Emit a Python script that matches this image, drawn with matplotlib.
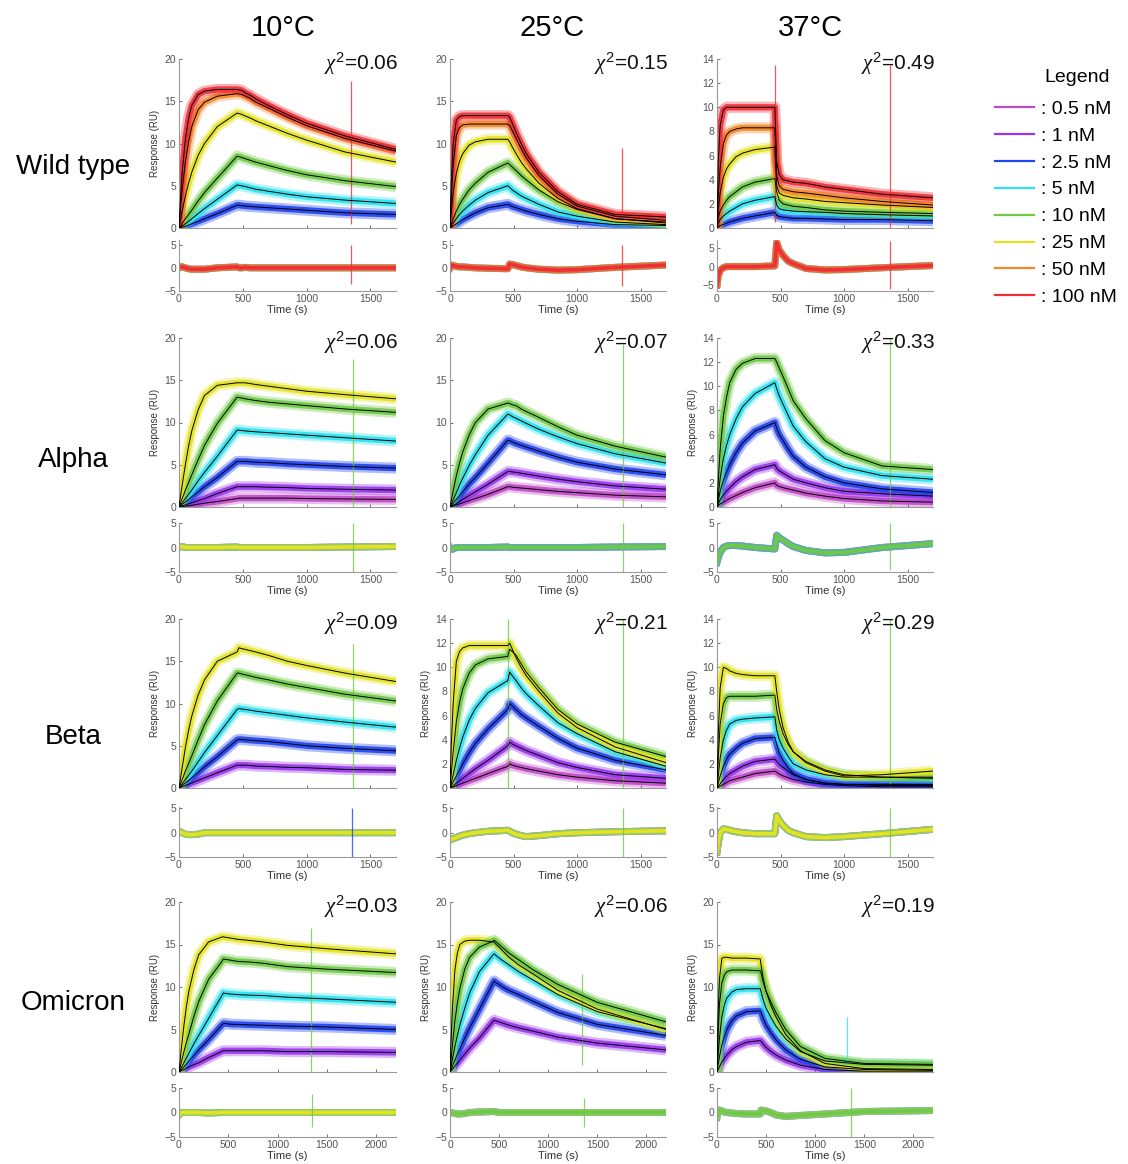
import matplotlib
matplotlib.use('Agg')
import matplotlib.pyplot as plt
from matplotlib.lines import Line2D

plt.rcParams['font.family'] = ['Liberation Sans', 'DejaVu Sans']
plt.rcParams['mathtext.fontset'] = 'custom'
plt.rcParams['mathtext.it'] = 'Liberation Serif:italic'
plt.rcParams['mathtext.rm'] = 'Liberation Sans'

# ---------------- data ----------------
conc_labels = [': 0.5 nM', ': 1 nM', ': 2.5 nM', ': 5 nM', ': 10 nM', ': 25 nM', ': 50 nM', ': 100 nM']
colors = ['#c04ac8', '#9a35ee', '#2243f0', '#2ee2f0', '#6fc946', '#e3e323', '#f5892a', '#ef2e37']
variants = ['Wild type', 'Alpha', 'Beta', 'Omicron']
temps = ['10°C', '25°C', '37°C']
chi2 = [['0.06', '0.15', '0.49'], ['0.06', '0.07', '0.33'],
        ['0.09', '0.21', '0.29'], ['0.03', '0.06', '0.19']]

t_std = [0, 10, 25, 50, 75, 100, 150, 200, 300, 455, 470, 490, 520, 560, 600, 700, 850, 1000, 1300, 1700]
t_omi = [0, 10, 25, 50, 75, 100, 150, 200, 300, 440, 450, 470, 500, 550, 600, 700, 850, 1100, 1500, 2200]

# series keyed by concentration index (0=0.5 nM ... 7=100 nM)
wt10 = {
    2: [0, 0.05, 0.1, 0.2, 0.35, 0.5, 0.8, 1.1, 1.7, 2.7, 2.7, 2.65, 2.6, 2.55, 2.5, 2.4, 2.25, 2.1, 1.8, 1.6],
    3: [0, 0.1, 0.25, 0.5, 0.8, 1.1, 1.7, 2.3, 3.4, 5.1, 5.05, 5.0, 4.9, 4.75, 4.6, 4.35, 4.0, 3.7, 3.3, 2.9],
    4: [0, 0.2, 0.55, 1.1, 1.6, 2.1, 3.2, 4.2, 5.9, 8.5, 8.45, 8.35, 8.2, 8.0, 7.8, 7.4, 6.8, 6.3, 5.6, 4.9],
    5: [0, 0.8, 2.0, 3.8, 5.3, 6.6, 8.6, 10.0, 12.0, 13.6, 13.55, 13.45, 13.25, 13.0, 12.7, 12.1, 11.2, 10.4, 9.0, 7.8],
    6: [0, 2.1, 4.6, 7.8, 10.2, 12.0, 14.0, 14.9, 15.6, 15.9, 15.85, 15.8, 15.6, 15.3, 14.9, 14.2, 13.1, 12.1, 10.6, 9.1],
    7: [0, 3.0, 6.6, 10.5, 13.0, 14.5, 15.8, 16.2, 16.4, 16.4, 16.35, 16.3, 16.0, 15.7, 15.3, 14.5, 13.4, 12.4, 10.9, 9.3],
}
wt25 = {
    2: [0, 0.1, 0.25, 0.5, 0.75, 1.0, 1.4, 1.8, 2.4, 2.8, 2.7, 2.55, 2.4, 2.2, 2.0, 1.6, 1.1, 0.8, 0.4, 0.3],
    3: [0, 0.25, 0.6, 1.1, 1.6, 2.0, 2.7, 3.3, 4.2, 5.0, 4.8, 4.5, 4.2, 3.8, 3.5, 2.8, 1.9, 1.4, 0.7, 0.4],
    4: [0, 0.45, 1.1, 2.0, 2.8, 3.4, 4.5, 5.3, 6.6, 7.7, 7.5, 7.2, 6.8, 6.2, 5.7, 4.5, 3.1, 2.2, 1.1, 0.6],
    5: [0, 1.8, 4.2, 6.5, 7.9, 8.8, 9.8, 10.2, 10.5, 10.5, 10.2, 9.6, 8.8, 7.8, 7.0, 5.3, 3.5, 2.3, 1.1, 0.7],
    6: [0, 3.5, 7.5, 11.0, 11.9, 12.2, 12.3, 12.3, 12.3, 12.3, 12.1, 11.5, 10.6, 9.4, 8.3, 6.2, 4.0, 2.6, 1.4, 0.9],
    7: [0, 5.5, 10.0, 12.8, 13.2, 13.3, 13.3, 13.3, 13.3, 13.3, 13.1, 12.4, 11.3, 10.0, 8.8, 6.6, 4.3, 2.8, 1.6, 1.3],
}
wt37 = {
    2: [0, 0.1, 0.2, 0.3, 0.4, 0.5, 0.65, 0.8, 1.0, 1.3, 1.05, 0.95, 0.9, 0.85, 0.8, 0.8, 0.75, 0.7, 0.7, 0.6],
    3: [0, 0.4, 0.7, 1.0, 1.2, 1.4, 1.7, 2.0, 2.3, 2.6, 1.9, 1.6, 1.5, 1.45, 1.4, 1.35, 1.3, 1.2, 1.1, 1.0],
    4: [0, 0.9, 1.4, 1.9, 2.3, 2.6, 3.0, 3.4, 3.8, 4.1, 3.0, 2.3, 2.0, 1.9, 1.8, 1.7, 1.5, 1.4, 1.3, 1.2],
    5: [0, 1.5, 2.9, 4.2, 4.9, 5.3, 5.9, 6.2, 6.5, 6.7, 3.5, 2.9, 2.7, 2.6, 2.5, 2.4, 2.2, 2.1, 1.9, 1.7],
    6: [0, 2.8, 5.0, 7.0, 7.7, 8.0, 8.2, 8.3, 8.3, 8.3, 4.3, 3.5, 3.2, 3.1, 3.0, 2.9, 2.7, 2.5, 2.2, 1.9],
    7: [0, 5.5, 8.5, 9.8, 10.0, 10.0, 10.0, 10.0, 10.0, 10.0, 5.5, 4.4, 4.0, 3.9, 3.8, 3.7, 3.4, 3.2, 2.8, 2.5],
}
al10 = {
    0: [0, 0.02, 0.05, 0.1, 0.15, 0.2, 0.33, 0.45, 0.65, 1.0, 1.05, 1.05, 1.05, 1.05, 1.05, 1.05, 1.05, 1.0, 0.95, 0.9],
    1: [0, 0.05, 0.12, 0.25, 0.38, 0.5, 0.75, 1.0, 1.6, 2.4, 2.4, 2.4, 2.4, 2.4, 2.4, 2.35, 2.3, 2.2, 2.1, 2.0],
    2: [0, 0.1, 0.3, 0.6, 0.9, 1.2, 1.8, 2.4, 3.5, 5.4, 5.4, 5.4, 5.4, 5.35, 5.3, 5.25, 5.1, 5.0, 4.8, 4.6],
    3: [0, 0.2, 0.5, 1.0, 1.5, 2.0, 3.1, 4.1, 6.0, 9.1, 9.1, 9.05, 9.0, 8.95, 8.9, 8.8, 8.65, 8.5, 8.2, 7.8],
    4: [0, 0.4, 1.0, 2.0, 2.9, 3.8, 5.6, 7.3, 9.9, 13.0, 12.95, 12.9, 12.8, 12.7, 12.6, 12.4, 12.2, 12.0, 11.6, 11.2],
    5: [0, 1.1, 2.6, 5.0, 7.2, 9.0, 11.5, 13.2, 14.4, 14.7, 14.7, 14.7, 14.7, 14.6, 14.5, 14.3, 14.0, 13.7, 13.3, 12.8],
}
al25 = {
    0: [0, 0.05, 0.12, 0.25, 0.38, 0.5, 0.75, 1.0, 1.5, 2.4, 2.4, 2.35, 2.3, 2.25, 2.2, 2.05, 1.85, 1.7, 1.4, 1.2],
    1: [0, 0.08, 0.2, 0.4, 0.65, 0.9, 1.35, 1.8, 2.7, 4.2, 4.2, 4.15, 4.1, 4.0, 3.9, 3.65, 3.3, 3.0, 2.5, 2.1],
    2: [0, 0.15, 0.45, 0.9, 1.35, 1.8, 2.7, 3.5, 5.2, 7.9, 7.85, 7.7, 7.5, 7.3, 7.1, 6.6, 5.9, 5.3, 4.5, 3.8],
    3: [0, 0.35, 0.85, 1.7, 2.6, 3.4, 4.9, 6.2, 8.5, 11.0, 10.9, 10.7, 10.5, 10.2, 9.9, 9.2, 8.3, 7.5, 6.3, 5.2],
    4: [0, 0.8, 1.9, 3.7, 5.2, 6.5, 8.5, 10.0, 11.6, 12.3, 12.25, 12.1, 12.0, 11.6, 11.3, 10.6, 9.5, 8.5, 7.2, 5.9],
}
al37 = {
    0: [0, 0.1, 0.25, 0.4, 0.55, 0.7, 0.95, 1.2, 1.6, 2.0, 1.8, 1.7, 1.6, 1.5, 1.4, 1.15, 0.9, 0.7, 0.5, 0.4],
    1: [0, 0.25, 0.6, 1.0, 1.3, 1.6, 2.1, 2.5, 3.1, 3.5, 3.2, 3.0, 2.8, 2.55, 2.3, 2.0, 1.6, 1.3, 1.1, 0.9],
    2: [0, 0.5, 1.3, 2.2, 2.9, 3.5, 4.5, 5.3, 6.3, 7.0, 6.5, 6.0, 5.5, 4.8, 4.2, 3.3, 2.5, 2.0, 1.5, 1.2],
    3: [0, 1.0, 2.4, 4.0, 5.1, 6.0, 7.3, 8.3, 9.4, 10.3, 9.8, 9.2, 8.5, 7.6, 6.7, 5.4, 4.0, 3.3, 2.6, 2.3],
    4: [0, 2.2, 4.8, 7.5, 9.1, 10.3, 11.4, 11.9, 12.3, 12.3, 12.0, 11.5, 10.8, 9.8, 8.8, 7.3, 5.5, 4.5, 3.4, 3.1],
}
be10 = {
    1: [0, 0.05, 0.15, 0.3, 0.45, 0.6, 0.9, 1.2, 1.8, 2.7, 2.7, 2.7, 2.7, 2.65, 2.6, 2.55, 2.45, 2.4, 2.2, 2.1],
    2: [0, 0.1, 0.3, 0.6, 0.9, 1.2, 1.85, 2.5, 3.7, 5.7, 5.75, 5.75, 5.7, 5.65, 5.6, 5.5, 5.25, 5.0, 4.7, 4.4],
    3: [0, 0.2, 0.5, 1.0, 1.5, 2.0, 3.1, 4.2, 6.2, 9.3, 9.4, 9.35, 9.3, 9.2, 9.1, 8.9, 8.6, 8.3, 7.8, 7.2],
    4: [0, 0.4, 1.0, 2.0, 2.9, 3.8, 5.7, 7.5, 10.3, 13.6, 13.6, 13.5, 13.4, 13.25, 13.1, 12.8, 12.3, 11.9, 11.1, 10.3],
    5: [0, 1.0, 2.4, 4.8, 6.8, 8.5, 11.0, 12.8, 15.0, 16.1, 16.6, 16.5, 16.4, 16.25, 16.1, 15.7, 15.0, 14.5, 13.6, 12.6],
}
be25 = {
    0: [0, 0.02, 0.08, 0.2, 0.3, 0.4, 0.6, 0.8, 1.2, 1.8, 2.0, 1.9, 1.8, 1.7, 1.6, 1.4, 1.1, 0.9, 0.6, 0.4],
    1: [0, 0.07, 0.2, 0.4, 0.6, 0.8, 1.2, 1.6, 2.3, 3.5, 3.8, 3.65, 3.5, 3.3, 3.1, 2.7, 2.1, 1.7, 1.1, 0.8],
    2: [0, 0.2, 0.5, 1.0, 1.5, 2.0, 2.9, 3.7, 4.9, 6.5, 7.0, 6.8, 6.5, 6.1, 5.8, 5.1, 4.1, 3.3, 2.3, 1.5],
    3: [0, 0.4, 1.1, 2.3, 3.3, 4.2, 5.6, 6.6, 7.9, 8.9, 9.6, 9.3, 8.9, 8.3, 7.8, 6.8, 5.4, 4.5, 3.0, 1.8],
    4: [0, 1.2, 3.0, 5.5, 7.1, 8.2, 9.5, 10.2, 10.7, 10.9, 11.5, 11.3, 11.0, 10.3, 9.6, 8.3, 6.5, 5.3, 3.8, 2.6],
    5: [0, 3.5, 7.0, 10.5, 11.3, 11.6, 11.8, 11.8, 11.8, 11.8, 12.0, 11.5, 10.8, 10.0, 9.3, 8.0, 6.2, 5.0, 3.4, 2.1],
}
be37 = {
    0: [0, 0.05, 0.15, 0.3, 0.45, 0.6, 0.75, 0.9, 1.2, 1.4, 1.3, 1.15, 1.0, 0.85, 0.7, 0.5, 0.3, 0.2, 0.1, 0.1],
    1: [0, 0.15, 0.35, 0.7, 0.95, 1.2, 1.5, 1.8, 2.2, 2.4, 2.2, 1.95, 1.7, 1.4, 1.1, 0.7, 0.4, 0.3, 0.2, 0.2],
    2: [0, 0.4, 1.0, 1.8, 2.4, 2.8, 3.3, 3.7, 4.1, 4.2, 3.6, 2.9, 2.3, 1.7, 1.2, 0.7, 0.4, 0.3, 0.3, 0.3],
    3: [0, 1.0, 2.5, 4.0, 4.8, 5.3, 5.6, 5.7, 5.8, 5.9, 4.8, 4.0, 3.3, 2.6, 2.0, 1.5, 1.1, 0.9, 0.9, 0.8],
    4: [0, 2.5, 5.3, 7.0, 7.5, 7.6, 7.6, 7.6, 7.6, 7.7, 6.5, 5.5, 4.5, 3.6, 3.0, 2.2, 1.5, 1.1, 0.9, 0.9],
    5: [0, 4.5, 8.3, 10.0, 9.9, 9.7, 9.5, 9.4, 9.3, 9.3, 8.0, 6.5, 5.0, 3.8, 3.0, 2.1, 1.4, 1.0, 1.1, 1.4],
}
om10 = {
    1: [0, 0.05, 0.15, 0.3, 0.45, 0.6, 0.85, 1.1, 1.7, 2.45, 2.5, 2.5, 2.5, 2.5, 2.5, 2.5, 2.5, 2.4, 2.4, 2.3],
    2: [0, 0.12, 0.3, 0.6, 0.95, 1.3, 1.95, 2.6, 3.8, 5.6, 5.7, 5.7, 5.65, 5.6, 5.6, 5.55, 5.5, 5.4, 5.3, 5.0],
    3: [0, 0.2, 0.55, 1.1, 1.65, 2.2, 3.3, 4.3, 6.3, 9.1, 9.3, 9.25, 9.2, 9.15, 9.1, 9.05, 9.0, 8.8, 8.6, 8.2],
    4: [0, 0.5, 1.2, 2.4, 3.5, 4.5, 6.5, 8.3, 10.9, 13.1, 13.3, 13.25, 13.2, 13.1, 13.0, 12.95, 12.8, 12.4, 12.1, 11.7],
    5: [0, 1.2, 2.9, 5.5, 7.7, 9.5, 12.0, 13.8, 15.3, 15.9, 15.9, 15.85, 15.8, 15.7, 15.6, 15.5, 15.3, 14.9, 14.5, 13.9],
}
om25 = {
    1: [0, 0.12, 0.35, 0.7, 1.05, 1.4, 2.1, 2.8, 4.0, 6.0, 6.1, 6.0, 5.9, 5.7, 5.5, 5.2, 4.8, 4.1, 3.4, 2.6],
    2: [0, 0.25, 0.7, 1.4, 2.1, 2.7, 4.0, 5.2, 7.4, 10.5, 10.7, 10.5, 10.3, 9.9, 9.6, 9.1, 8.3, 7.0, 5.6, 4.3],
    3: [0, 0.6, 1.5, 3.0, 4.3, 5.5, 7.5, 9.3, 11.8, 13.8, 13.9, 13.7, 13.4, 13.0, 12.6, 11.8, 10.8, 9.1, 7.1, 5.1],
    5: [0, 3.5, 7.5, 12.0, 14.0, 15.0, 15.4, 15.5, 15.5, 15.3, 15.3, 15.0, 14.7, 14.1, 13.5, 12.6, 11.5, 9.6, 7.4, 5.0],
    4: [0, 1.3, 3.2, 6.0, 8.1, 9.8, 12.1, 13.5, 14.7, 15.4, 15.5, 15.3, 15.0, 14.5, 14.0, 13.2, 12.0, 10.3, 8.2, 5.9],
}
om37 = {
    1: [0, 0.25, 0.6, 1.2, 1.6, 2.0, 2.6, 3.0, 3.5, 3.7, 3.6, 3.3, 2.9, 2.4, 2.0, 1.4, 0.8, 0.3, 0.1, 0.1],
    2: [0, 0.8, 1.8, 3.2, 4.2, 5.0, 6.0, 6.6, 7.1, 7.2, 7.0, 6.3, 5.5, 4.6, 3.8, 2.6, 1.5, 0.6, 0.3, 0.2],
    3: [0, 1.8, 4.0, 6.5, 7.9, 8.7, 9.4, 9.7, 9.8, 9.8, 9.4, 8.5, 7.5, 6.4, 5.4, 3.9, 2.4, 1.3, 0.9, 0.8],
    5: [0, 6.5, 11.0, 13.4, 13.5, 13.5, 13.4, 13.4, 13.4, 13.3, 12.5, 11.0, 9.5, 7.8, 6.5, 4.4, 2.5, 1.0, 0.4, 0.3],
    4: [0, 4.0, 8.0, 10.5, 11.4, 11.8, 12.0, 12.0, 12.0, 11.9, 11.6, 10.6, 9.5, 8.2, 7.0, 5.0, 3.0, 1.6, 1.0, 0.9],
}

# residuals (one trace per panel, same time grid)
res = [
    [[0, 0.2, 0.2, 0, -0.2, -0.3, -0.3, -0.3, 0, 0.2, 0, 0, 0.1, 0, 0, 0, 0, 0, 0, 0],
     [0, 0.6, 0.5, 0.3, 0.2, 0.2, 0.1, 0, -0.1, -0.2, 0.8, 0.7, 0.5, 0.2, 0, -0.3, -0.5, -0.4, 0.1, 0.6],
     [-5, -2.5, -1.0, -0.3, 0, 0, 0, 0, 0, 0.2, 6.5, 4.5, 3.0, 1.5, 0.8, -0.5, -0.9, -0.8, -0.3, 0.3]],
    [[0, 0.2, 0.2, 0, 0, 0, 0, 0, 0, 0.1, 0, 0, 0, 0, 0, 0, 0, 0, 0.1, 0.2],
     [0, -0.4, -0.3, 0, 0, 0, 0, 0, 0, 0.1, 0, 0, 0, 0, 0, 0, 0, 0, 0.1, 0.2],
     [-3, -2.0, -1.0, 0, 0.3, 0.4, 0.4, 0.3, 0, -0.3, 2.5, 2.0, 1.5, 0.8, 0.2, -0.6, -1.1, -1.0, 0, 0.8]],
    [[0.3, 0.2, 0, -0.3, -0.4, -0.4, -0.3, 0, 0, 0, 0, 0, 0, 0, 0, 0, 0, 0, 0, 0],
     [-1.5, -1.4, -1.2, -1.0, -0.7, -0.5, -0.2, 0, 0.3, 0.5, 0.3, 0, -0.3, -0.6, -0.8, -0.6, -0.2, 0, 0.2, 0.4],
     [-4, -2.0, 0, 0.8, 0.7, 0.5, 0.2, 0, -0.2, -0.2, 3.5, 2.5, 1.5, 0.5, 0, -0.8, -1.0, -0.8, -0.2, 0.7]],
    [[-0.5, -0.3, 0, 0, 0, 0, 0, 0, -0.1, 0, 0, 0, 0, 0, 0, 0, 0, 0, 0, 0],
     [0, 0, -0.1, -0.2, -0.3, -0.3, -0.2, 0, 0.1, 0.2, 0.2, 0.1, 0, 0, 0, 0, 0, 0, 0, 0],
     [-1, 0, 0.5, 0.3, 0.1, 0, -0.1, -0.2, -0.3, -0.3, 0.5, 0.4, 0.3, 0, -0.5, -0.8, -0.6, -0.3, 0.2, 0.4]],
]

# injection spikes: (time, low, high, colour index)
spikes = [
    [[(1345, 0.5, 17.4, 7)], [(1350, 1.0, 9.5, 7)], [(460, 0.5, 13.5, 7), (1360, 0.0, 13.5, 7)]],
    [[(1360, 0.0, 17.5, 4)], [(1360, 0.0, 19.3, 4)], [(1360, 0.0, 14.0, 4)]],
    [[(1360, 0.0, 17.0, 4)], [(460, 0.0, 14.0, 4), (1360, 0.0, 14.0, 4)], [(1365, 0.0, 14.0, 4)]],
    [[(1340, 0.0, 17.0, 4)], [(1340, 0.8, 11.5, 4)], [(1320, 1.0, 6.5, 3)]],
]
res_spikes = [
    [[(1350, -3.5, 5.0, 7)], [(1350, -4.0, 5.0, 7)], [(1360, -6.0, 7.0, 7)]],
    [[(1360, -5.0, 5.0, 4)], [(1360, -5.0, 5.0, 4)], [(1360, -4.5, 5.0, 4)]],
    [[(1355, -5.0, 5.0, 2)], [(1360, -5.0, 5.0, 4)], [(1360, -5.0, 5.0, 4)]],
    [[(1345, -3.0, 3.8, 4)], [(1360, -3.0, 3.0, 4)], [(1360, -5.0, 5.0, 4)]],
]

panels = [[wt10, wt25, wt37], [al10, al25, al37], [be10, be25, be37], [om10, om25, om37]]
times = [t_std, t_std, t_std, t_omi]

# ---------------- layout ----------------
W, H = 1128, 1164
fig = plt.figure(figsize=(W / 100, H / 100), dpi=100)

col_left = [179, 450, 717]
col_w = [217, 216, 216]
main_rows = [(59, 228), (338, 507), (619, 788), (902, 1072)]
res_rows = [(240, 291), (523, 572), (807, 857), (1088, 1137)]
main_ylim = [[20, 20, 14], [20, 20, 14], [20, 14, 14], [20, 20, 20]]
res_ylim = [[(-5, 6), (-5, 6), (-6.6, 7.2)], [(-5, 5)] * 3, [(-5, 5.3)] * 3, [(-5, 5)] * 3]
ylabel_on = [[True, False, False], [True, False, True], [True, True, True], [True, True, True]]
xmax = [1700, 1700, 1700, 2200]

axis_col = '#9a9a9a'
tick_col = '#555555'


def style(ax):
    for s in ['top', 'right']:
        ax.spines[s].set_visible(False)
    for s in ['left', 'bottom']:
        ax.spines[s].set_color(axis_col)
        ax.spines[s].set_linewidth(0.8)
    ax.tick_params(direction='in', length=2, width=0.6, labelsize=7.5,
                   colors=tick_col, pad=2)


def rect(x0, w, top, bottom):
    return [x0 / W, 1 - bottom / H, w / W, (bottom - top) / H]


for r in range(4):
    for c in range(3):
        t = times[r]
        data = panels[r][c]
        ax = fig.add_axes(rect(col_left[c], col_w[c], *main_rows[r]))
        axr = fig.add_axes(rect(col_left[c], col_w[c], *res_rows[r]))
        for a in (ax, axr):
            style(a)
            a.set_xlim(0, xmax[r])
            a.set_xticks(list(range(0, xmax[r] + 1, 500)))
        ax.tick_params(labelbottom=False)
        top = main_ylim[r][c]
        ax.set_ylim(0, top)
        ax.set_yticks(list(range(0, top + 1, 5 if top == 20 else 2)))
        axr.set_ylim(*res_ylim[r][c])
        axr.set_yticks([-5, 0, 5])

        for k, vals in data.items():
            # soft outer halo (noise envelope) + denser core
            ax.plot(t, vals, color=colors[k], lw=8.0, alpha=0.35,
                    solid_joinstyle='round', solid_capstyle='butt', zorder=2)
            ax.plot(t, vals, color=colors[k], lw=4.5, alpha=0.9,
                    solid_joinstyle='round', solid_capstyle='butt', zorder=2)
        for tt, lo, hi, ci in spikes[r][c]:
            ax.vlines(tt, lo, hi, color=colors[ci], lw=0.9, alpha=0.8, zorder=2.5)
        for k, vals in data.items():
            ax.plot(t, vals, color='black', lw=0.7, zorder=3)

        for k in data:
            axr.plot(t, res[r][c], color=colors[k], lw=5.0, alpha=0.45, zorder=2,
                     solid_joinstyle='round')
            axr.plot(t, res[r][c], color=colors[k], lw=2.5, zorder=2,
                     solid_joinstyle='round')
        for tt, lo, hi, ci in res_spikes[r][c]:
            axr.vlines(tt, lo, hi, color=colors[ci], lw=0.9, alpha=0.8, zorder=2.5)

        axr.set_xlabel('Time (s)', fontsize=8, color='#333333', labelpad=1)
        if ylabel_on[r][c]:
            ax.set_ylabel('Response (RU)', fontsize=7, color='#333333', labelpad=3)
        ax.text(1.01, 0.97, r'$\chi^2$=' + chi2[r][c], transform=ax.transAxes,
                ha='right', va='center', fontsize=15, color='#111111')

# column titles and row labels
title_x = [283, 552, 810]
for c in range(3):
    fig.text(title_x[c] / W, 1 - 28 / H, temps[c], ha='center', va='center', fontsize=21)
row_y = [167, 460, 737, 1003]
for r in range(4):
    fig.text(73 / W, 1 - row_y[r] / H, variants[r], ha='center', va='center', fontsize=20)

fig.text(1077 / W, 1 - 78 / H, 'Legend', ha='center', va='center', fontsize=14)
handles = [Line2D([], [], color=colors[i], lw=1.6) for i in range(8)]
leg = fig.legend(handles, conc_labels, loc='upper left',
                 bbox_to_anchor=(995 / W, 1 - 100 / H), frameon=False,
                 fontsize=14, handlelength=2.0, handletextpad=0.35,
                 labelspacing=0.48, borderpad=0, borderaxespad=0)

fig.savefig('out.png', dpi=100)
